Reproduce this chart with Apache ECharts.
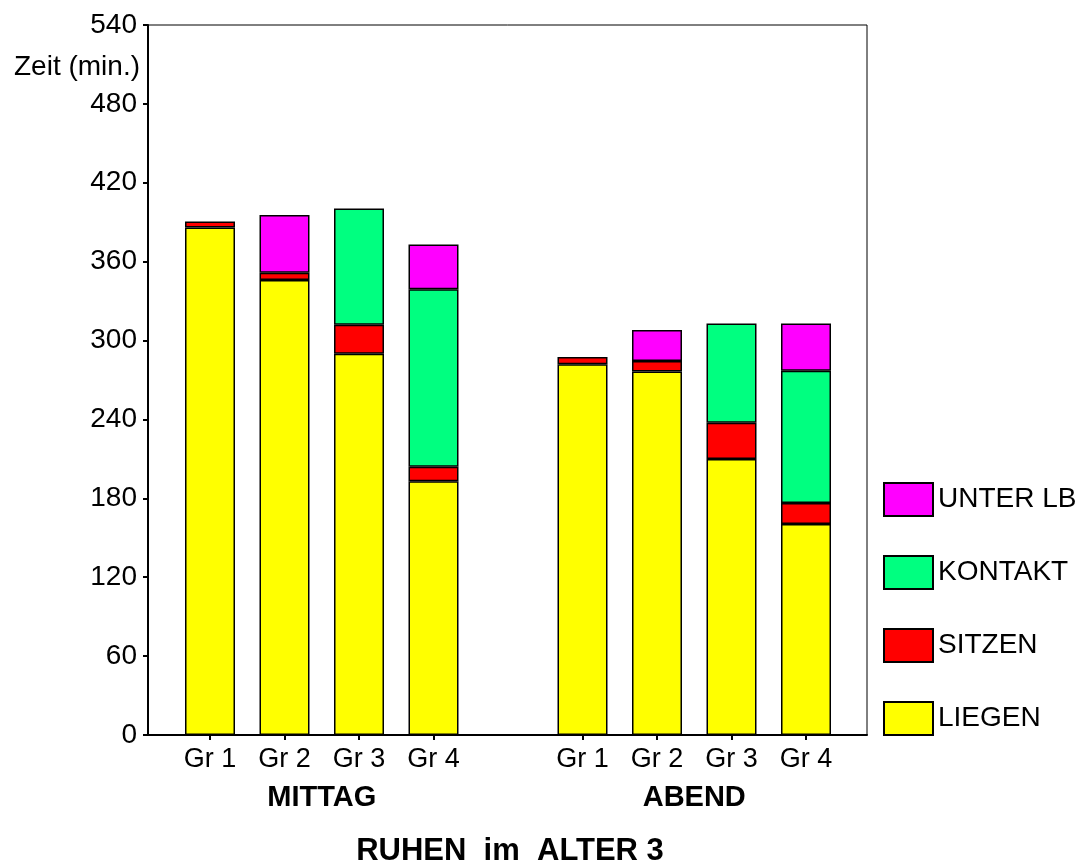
<!DOCTYPE html>
<html><head><meta charset="utf-8">
<script src="https://cdn.jsdelivr.net/npm/echarts@6/dist/echarts.min.js"></script>
<style>html,body{margin:0;padding:0;background:#fff}#c{width:1084px;height:863px}</style>
</head><body><div id="c"></div>
<script>
// ---- data ----
const groups = ['MITTAG', 'ABEND'];
const groupCats = ['Gr 1', 'Gr 2', 'Gr 3', 'Gr 4'];
const seriesNames = ['LIEGEN', 'SITZEN', 'KONTAKT', 'UNTER LB'];
const mittagLiegen  = [386, 346, 290, 193];
const mittagSitzen  = [4.5, 5.5, 22, 11];
const mittagKontakt = [null, null, 88.5, 135];
const mittagUnterLB = [null, 44, null, 34];
const abendLiegen   = [282, 276.5, 210, 160.5];
const abendSitzen   = [5.5, 8, 27.5, 16];
const abendKontakt  = [null, null, 75.5, 100.5];
const abendUnterLB  = [null, 23.5, null, 36];
const yMin = 0, yMax = 540, yStep = 60;
const yName = 'Zeit (min.)';
const chartTitle = 'RUHEN  im  ALTER 3';

// ---- styling / layout ----
const colors = ['#ffff00', '#ff0000', '#00ff80', '#ff00ff'];
const FONT = "'Liberation Sans', Arial, sans-serif";
const plotLeft = 148, plotRight = 867, plotTop = 25, plotBottom = 735;
const slot = 74.5, firstCenter = 210;

const cats = [...groupCats, '', ...groupCats];
const seriesData = [
  [...mittagLiegen, null, ...abendLiegen],
  [...mittagSitzen, null, ...abendSitzen],
  [...mittagKontakt, null, ...abendKontakt],
  [...mittagUnterLB, null, ...abendUnterLB]
];
const xMinA = -(firstCenter - plotLeft) / slot;
const xMaxA = (plotRight - firstCenter) / slot;
const groupPos = [1.5, 6.5];

const chart = echarts.init(document.getElementById('c'), null, {renderer: 'canvas'});
chart.setOption({
  animation: false,
  backgroundColor: '#fff',
  textStyle: {fontFamily: FONT},
  title: [
    {text: chartTitle, left: 510, top: 836, textAlign: 'center', padding: 0,
     textStyle: {fontFamily: FONT, fontSize: 31, fontWeight: 'bold', color: '#000'}},
    {text: yName, left: 140, top: 53, textAlign: 'right', padding: 0,
     textStyle: {fontFamily: FONT, fontSize: 28, fontWeight: 'normal', color: '#000'}}
  ],
  legend: {
    orient: 'vertical', left: 883, top: 482,
    itemWidth: 49, itemHeight: 33, itemGap: 38, padding: 0,
    icon: 'rect',
    data: seriesNames.slice().reverse(),
    textStyle: {fontFamily: FONT, fontSize: 28, color: '#000', lineHeight: 33}
  },
  grid: [
    {left: plotLeft, top: plotTop, width: plotRight - plotLeft, height: plotBottom - plotTop,
     show: true, borderColor: '#000', borderWidth: 1, backgroundColor: 'transparent'},
    {left: firstCenter - slot / 2, top: plotTop, width: slot * cats.length, height: plotBottom - plotTop}
  ],
  xAxis: [
    {type: 'value', gridIndex: 0, min: xMinA, max: xMaxA,
     axisLine: {show: true, onZero: false, lineStyle: {color: '#000', width: 2}},
     axisTick: {show: false}, axisLabel: {show: false}, splitLine: {show: false}},
    {type: 'value', gridIndex: 0, min: xMinA, max: xMaxA, position: 'bottom', offset: 40,
     axisLine: {show: false, onZero: false}, axisTick: {show: false}, splitLine: {show: false},
     axisLabel: {show: true, customValues: groupPos, margin: 8,
       formatter: v => groups[groupPos.indexOf(v)] || '',
       fontFamily: FONT, fontSize: 29, fontWeight: 'bold', color: '#000'}},
    {type: 'category', gridIndex: 1, data: cats,
     axisLine: {show: false, onZero: false},
     axisTick: {show: true, alignWithLabel: true, length: 5,
       interval: (i, v) => v !== '', lineStyle: {color: '#000', width: 2}},
     axisLabel: {interval: 0, margin: 11, fontFamily: FONT, fontSize: 27, color: '#000'},
     splitLine: {show: false}}
  ],
  yAxis: [
    {type: 'value', gridIndex: 0, min: yMin, max: yMax, interval: yStep, position: 'left',
     axisLine: {show: true, onZero: false, lineStyle: {color: '#000', width: 2}},
     axisTick: {show: true, length: 5, lineStyle: {color: '#000', width: 2}},
     axisLabel: {margin: 11, fontFamily: FONT, fontSize: 28, color: '#000'},
     splitLine: {show: false}},
    {type: 'value', gridIndex: 1, min: yMin, max: yMax, show: false,
     axisLine: {show: false, onZero: false}, axisTick: {show: false}, axisLabel: {show: false}, splitLine: {show: false}}
  ],
  series: seriesNames.map((name, i) => ({
    name, type: 'bar', stack: 'total', xAxisIndex: 2, yAxisIndex: 1,
    barWidth: 50,
    data: seriesData[i],
    itemStyle: {color: colors[i], borderColor: '#000', borderWidth: 1.5}
  }))
});
</script>
</body></html>
